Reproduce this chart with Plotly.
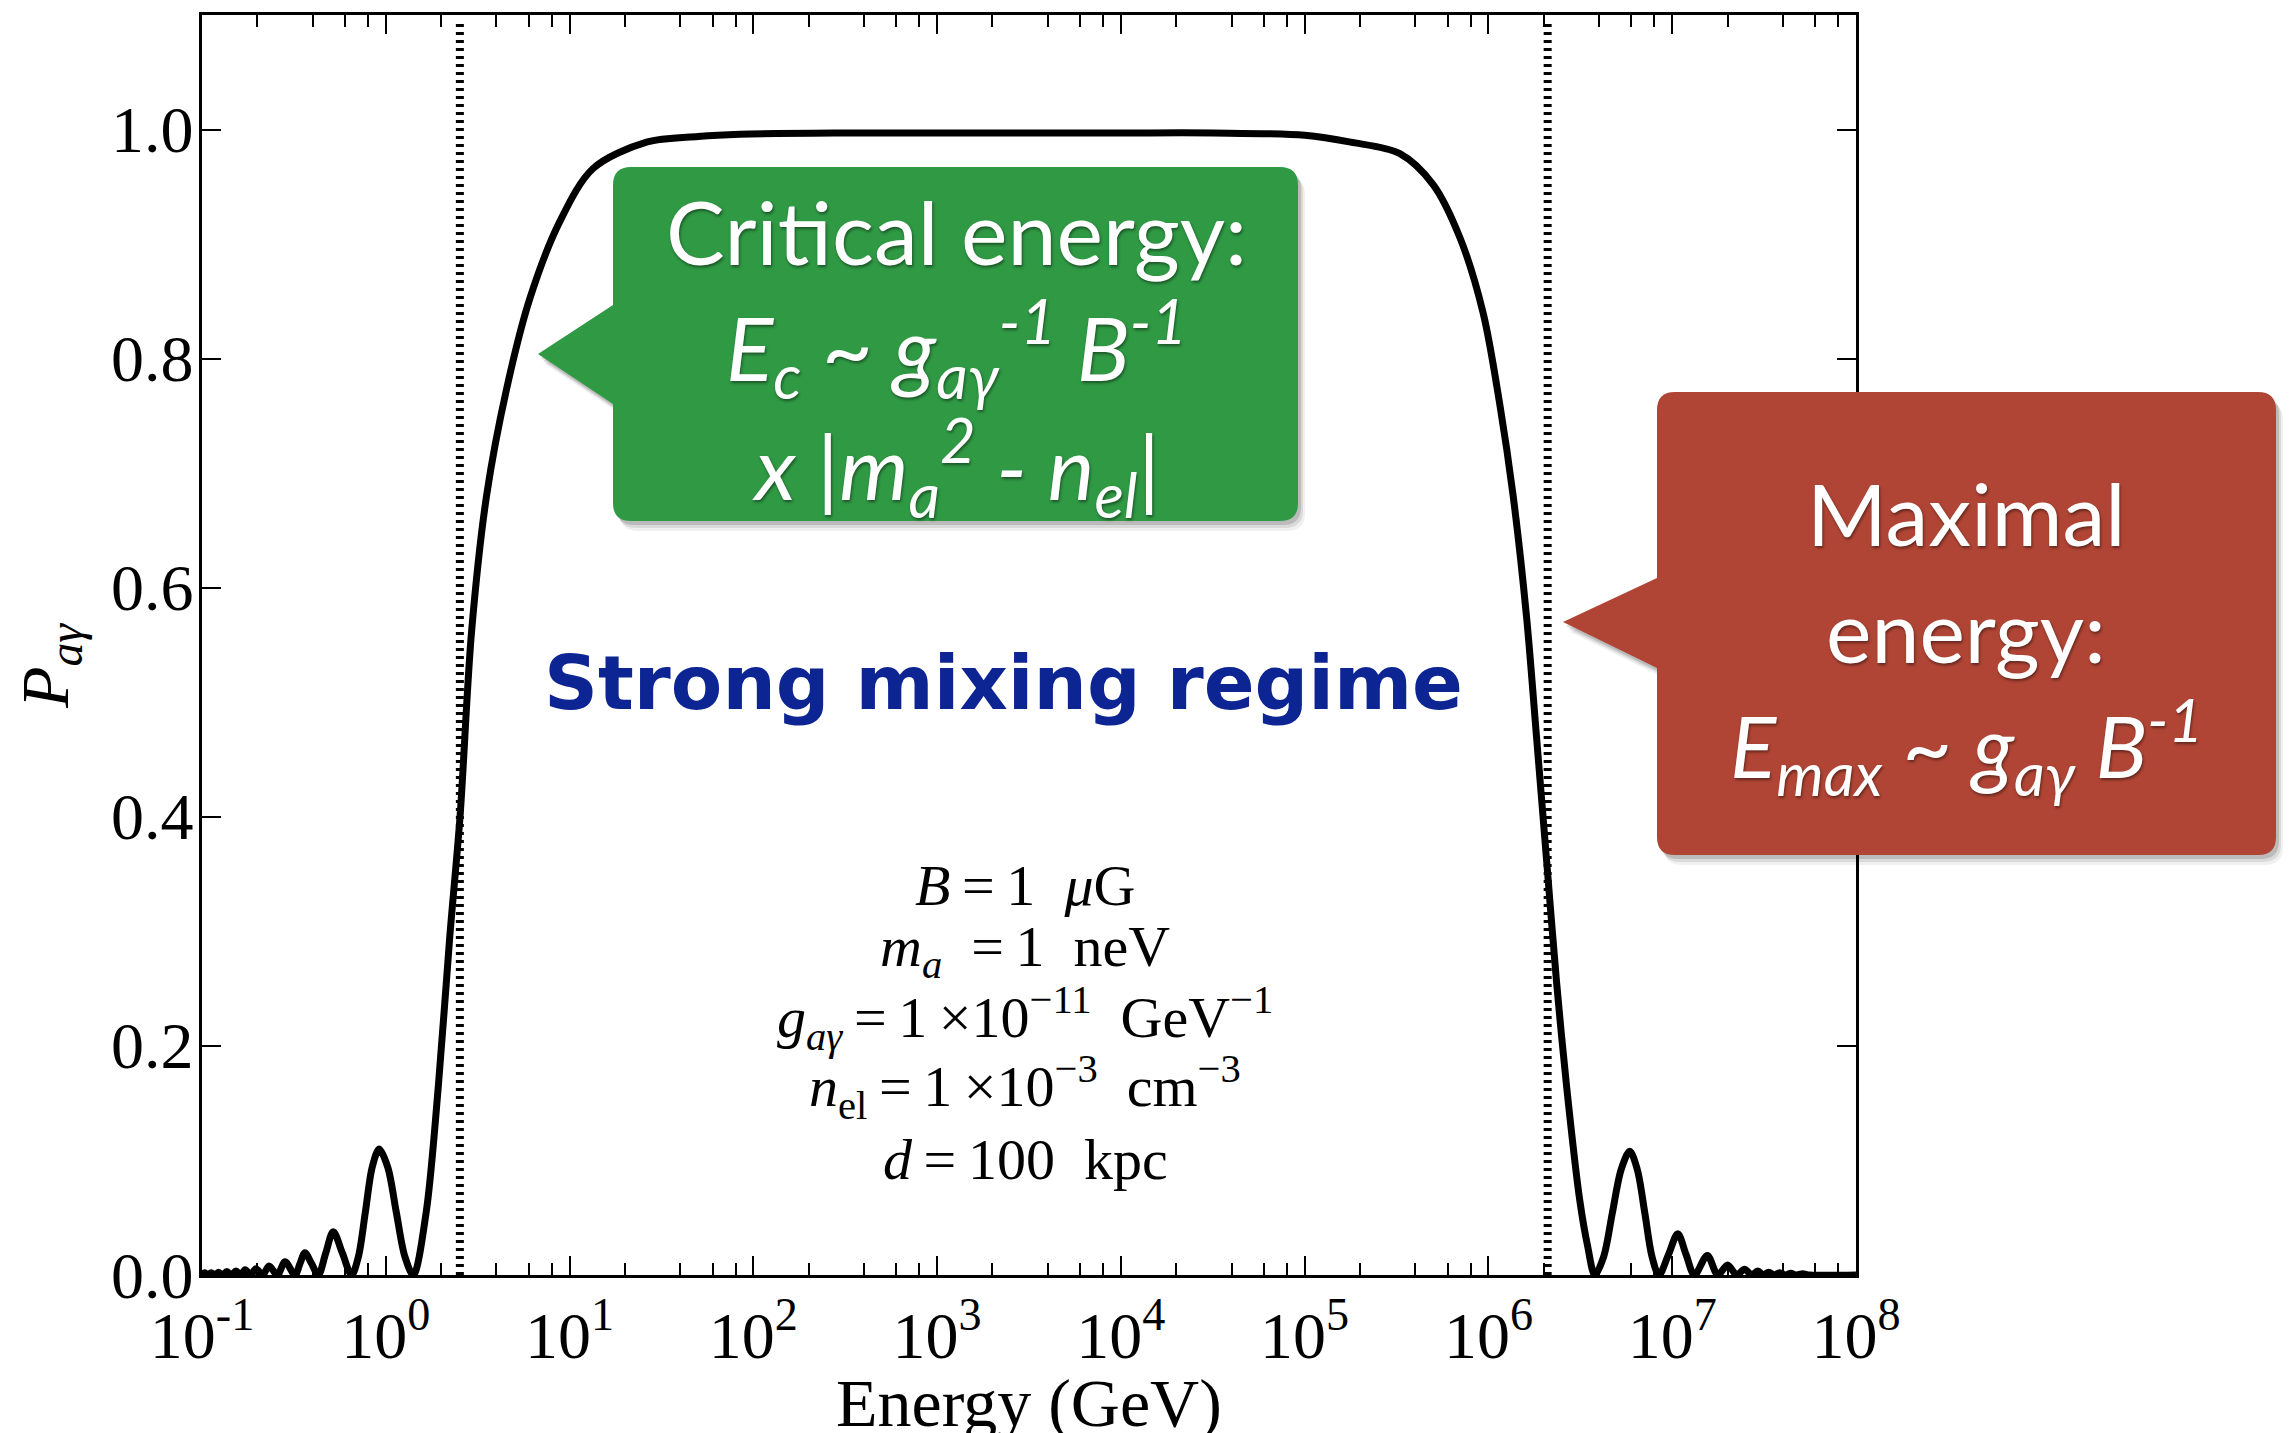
import plotly.graph_objects as go

# Axion-photon conversion probability versus photon energy
energy_gev = [
    0.1, 0.1035, 0.1072, 0.1122, 0.1175, 0.1230, 0.1288, 0.1365, 0.1445, 0.1531,
    0.1622, 0.1718, 0.1837, 0.1968, 0.2138, 0.2317, 0.2570, 0.2831, 0.3206, 0.3412,
    0.3631, 0.3945, 0.4295, 0.4710, 0.5176, 0.5808, 0.6516, 0.7096, 0.7745, 0.8433,
    0.9204, 1.0257, 1.1402, 1.2706, 1.4125, 1.6596, 1.9320, 2.2336, 2.5351, 2.9309,
    3.5400, 4.5499, 6.0954, 8.8716, 13.428, 26.242, 50.12, 84.53, 316.2, 1000.0, 3162.0,
    1.0e4, 3.1623e4, 1.0e5, 1.778e5, 3.2961e5, 5.0e5, 6.982e5, 9.354e5, 1.153e6, 1.361e6, 1.611e6,
    1.828e6, 2.070e6, 2.344e6, 2.661e6, 3.141e6, 3.467e6, 3.793e6, 4.236e6, 4.721e6, 5.272e6,
    5.875e6, 6.457e6, 7.096e6, 7.762e6, 8.472e6, 9.550e6, 1.0715e7, 1.1885e7, 1.3213e7, 1.5524e7,
    1.7701e7, 2.0e7, 2.2439e7, 2.4717e7, 2.7102e7, 2.9174e7, 3.1405e7, 3.3497e7, 3.5892e7, 3.8459e7,
    4.1210e7, 4.4157e7, 4.7315e7, 5.1286e7, 5.6234e7, 1.0e8,
]
probability = [
    0.0, 0.002, 0.0, 0.002, 0.0, 0.0025, 0.0, 0.003, 0.0, 0.0035,
    0.0, 0.0045, 0.0, 0.0055, 0.0, 0.0079, 0.0, 0.0116, 0.0, 0.010,
    0.0195, 0.010, 0.0, 0.019, 0.0378, 0.019, 0.0, 0.016, 0.055, 0.094,
    0.110, 0.094, 0.055, 0.016, 0.0, 0.055, 0.165, 0.297, 0.400, 0.562,
    0.681, 0.774, 0.853, 0.920, 0.966, 0.989, 0.994, 0.996, 0.997, 0.997, 0.997,
    0.997, 0.997, 0.995, 0.989, 0.979, 0.952, 0.906, 0.840, 0.760, 0.681, 0.575,
    0.469, 0.363, 0.257, 0.165, 0.065, 0.025, 0.0, 0.016, 0.054, 0.092,
    0.108, 0.092, 0.054, 0.016, 0.0, 0.018, 0.036, 0.018, 0.0, 0.017,
    0.0, 0.0087, 0.0, 0.005, 0.0, 0.0035, 0.0, 0.0025, 0.0, 0.002,
    0.0, 0.0015, 0.0, 0.001, 0.0, 0.0,
]

critical_energy_gev = 2.53
maximal_energy_gev = 2.1e6

x_tick_vals = [1e-1, 1e0, 1e1, 1e2, 1e3, 1e4, 1e5, 1e6, 1e7, 1e8]
x_tick_text = ["10<sup>-1</sup>", "10<sup>0</sup>", "10<sup>1</sup>", "10<sup>2</sup>",
               "10<sup>3</sup>", "10<sup>4</sup>", "10<sup>5</sup>", "10<sup>6</sup>",
               "10<sup>7</sup>", "10<sup>8</sup>"]
x_minor_vals = [m * d for d in x_tick_vals[:-1] for m in (2, 4, 6, 8)]
y_tick_vals = [0.0, 0.2, 0.4, 0.6, 0.8, 1.0]
y_tick_text = ["0.0", "0.2", "0.4", "0.6", "0.8", "1.0"]

parameter_lines = [
    "<i>B</i>\u2009=\u20091\u2002<i>μ</i>G",
    "<i>m<sub>a</sub></i>\u2002=\u20091\u2002neV",
    "<i>g<sub>aγ</sub></i>\u2009=\u20091\u2009×10<sup>−11</sup>\u2002GeV<sup>−1</sup>",
    "<i>n</i><sub>el</sub>\u2009=\u20091\u2009×10<sup>−3</sup>\u2002cm<sup>−3</sup>",
    "<i>d</i>\u2009=\u2009100\u2002kpc",
]
critical_lines = [
    "Critical energy:",
    "<i>E<sub>c</sub> ~ g<sub>aγ</sub><sup>-1</sup> B<sup>-1</sup></i>",
    "<i>x |m<sub>a</sub><sup>2</sup> - n<sub>el</sub>|</i>",
]
maximal_lines = [
    "Maximal",
    "energy:",
    "<i>E<sub>max</sub> ~ g<sub>aγ</sub> B<sup>-1</sup></i>",
]

W, H = 2295, 1433
L, R, T, B = 202, 439, 15, 158
PW, PH = W - L - R, H - T - B


def px(x):
    return (x - L) / PW


def py(y):
    return (H - B - y) / PH


def callout_path(x0, y0, x1, y1, r, tip, base_top, base_bot, dx=0, dy=0):
    """Rounded box with a pointer on its left side, pixel coords -> paper coords."""
    def P(x, y):
        return f"{px(x + dx):.5f},{py(y + dy):.5f}"

    pts = [
        f"M{P(x0 + r, y0)}",
        f"L{P(x1 - r, y0)}",
        f"Q{P(x1, y0)} {P(x1, y0 + r)}",
        f"L{P(x1, y1 - r)}",
        f"Q{P(x1, y1)} {P(x1 - r, y1)}",
        f"L{P(x0 + r, y1)}",
        f"Q{P(x0, y1)} {P(x0, y1 - r)}",
        f"L{P(x0, base_bot)}",
        f"L{P(tip[0], tip[1])}",
        f"L{P(x0, base_top)}",
        f"L{P(x0, y0 + r)}",
        f"Q{P(x0, y0)} {P(x0 + r, y0)}",
    ]
    return " ".join(pts) + " Z"


fig = go.Figure()

for e in (critical_energy_gev, maximal_energy_gev):
    fig.add_trace(go.Scatter(
        x=[e, e], y=[0.0, 1.094], mode="lines",
        line=dict(color="black", width=8, dash="3px,5px"),
        hoverinfo="skip", showlegend=False,
    ))

fig.add_trace(go.Scatter(
    x=energy_gev, y=probability, mode="lines",
    line=dict(color="black", width=7, shape="spline", smoothing=0.9),
    showlegend=False,
))

shapes = []
boxes = [
    (dict(x0=613, y0=167, x1=1298, y1=521, r=18, tip=(538, 354), base_top=305, base_bot=404), "#2f9944"),
    (dict(x0=1657, y0=392, x1=2276, y1=855, r=18, tip=(1563, 622), base_top=578, base_bot=668), "#b14535"),
]
for geo, color in boxes:
    for (dx, dy, a) in ((7, 10, 0.06), (5, 7, 0.09), (3, 4, 0.14)):
        shapes.append(dict(type="path", xref="paper", yref="paper", layer="above",
                           path=callout_path(dx=dx, dy=dy, **geo),
                           fillcolor=f"rgba(0,0,0,{a})", line=dict(width=0)))
    shapes.append(dict(type="path", xref="paper", yref="paper", layer="above",
                       path=callout_path(**geo), fillcolor=color, line=dict(width=0)))

annotations = []
box_font = dict(family="Lato, 'Open Sans', sans-serif", size=88, color="white",
                shadow="1px 2px 3px rgba(0,0,0,0.45)")
for text, yc in zip(critical_lines, (231, 348, 467)):
    annotations.append(dict(x=px(956), y=py(yc), xref="paper", yref="paper", text=text,
                            showarrow=False, xanchor="center", yanchor="middle", font=box_font))
box_font_red = dict(box_font, size=86)
for text, yc in zip(maximal_lines, (512, 629, 746)):
    annotations.append(dict(x=px(1966), y=py(yc), xref="paper", yref="paper", text=text,
                            showarrow=False, xanchor="center", yanchor="middle", font=box_font_red))

annotations.append(dict(
    x=px(1003), y=py(683), xref="paper", yref="paper", text="<b>Strong mixing regime</b>",
    showarrow=False, xanchor="center", yanchor="middle",
    font=dict(family="DejaVu Sans", size=75, color="#0d2493"),
))

for text, yc in zip(parameter_lines, (885, 950, 1018, 1087, 1159)):
    annotations.append(dict(
        x=px(1025), y=py(yc), xref="paper", yref="paper", text=text,
        showarrow=False, xanchor="center", yanchor="middle",
        font=dict(family="Liberation Serif", size=58, color="black"),
    ))

# y tick labels set close to the spine
for v, t in zip(y_tick_vals, y_tick_text):
    annotations.append(dict(
        x=px(196), y=v, xref="paper", yref="y", text=t,
        showarrow=False, xanchor="right", yanchor="middle",
        font=dict(family="Liberation Serif", size=66, color="black"),
    ))

annotations.append(dict(
    x=px(1029), y=py(1403), xref="paper", yref="paper", text="Energy (GeV)",
    showarrow=False, xanchor="center", yanchor="middle",
    font=dict(family="Liberation Serif", size=68, color="black"),
))
annotations.append(dict(
    x=px(50), y=py(666), xref="paper", yref="paper",
    text="<i>P</i><sub><i>aγ</i></sub>", textangle=-90,
    showarrow=False, xanchor="center", yanchor="middle",
    font=dict(family="Liberation Serif", size=68, color="black"),
))

axis_common = dict(
    showline=True, linewidth=3, linecolor="black", mirror="allticks",
    ticks="inside", ticklen=19, tickwidth=2, tickcolor="black",
    showgrid=False, zeroline=False,
)

fig.update_layout(
    width=W, height=H,
    margin=dict(l=L, r=R, t=T, b=B, pad=0),
    paper_bgcolor="white", plot_bgcolor="white",
    shapes=shapes, annotations=annotations,
    xaxis=dict(type="log", range=[-1, 8], tickmode="array",
               tickvals=x_tick_vals, ticktext=x_tick_text, ticklabelstandoff=1,
               tickfont=dict(family="Liberation Serif", size=66, color="black"),
               minor=dict(tickmode="array", tickvals=x_minor_vals, ticks="inside",
                          ticklen=12, tickwidth=2, tickcolor="black", showgrid=False),
               **axis_common),
    yaxis=dict(range=[0, 1.1], tickmode="array", tickvals=y_tick_vals,
               showticklabels=False, **axis_common),
)

fig.write_html("out.html")
